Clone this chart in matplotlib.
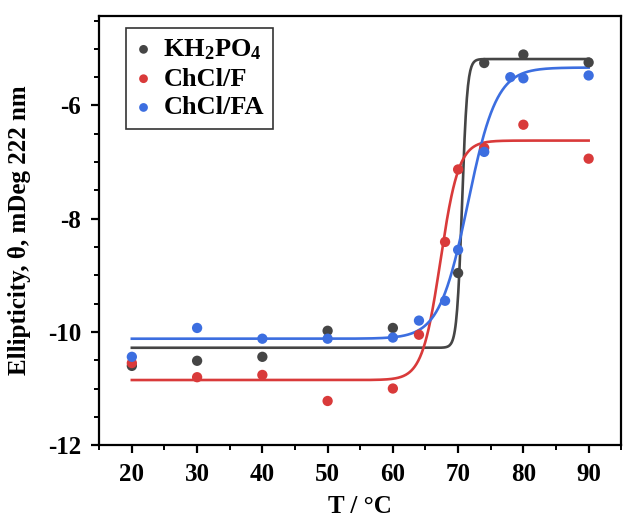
import numpy as np
import matplotlib
matplotlib.use("Agg")
import matplotlib.pyplot as plt
from matplotlib.ticker import MultipleLocator

plt.rcParams['font.family'] = ['Liberation Serif', 'DejaVu Serif']
plt.rcParams['font.weight'] = 'bold'
plt.rcParams['mathtext.default'] = 'regular'
plt.rcParams['axes.unicode_minus'] = False

# Data
labels = [r'KH$_2$PO$_4$', 'ChCl/F', 'ChCl/FA']
colors = ['#454545', '#d93a3a', '#3c6ee0']

T_kh = [20, 30, 40, 50, 60, 70, 74, 80, 90]
y_kh = [-10.60, -10.51, -10.44, -9.98, -9.93, -8.96, -5.25, -5.10, -5.24]

T_f = [20, 30, 40, 50, 60, 64, 68, 70, 74, 80, 90]
y_f = [-10.55, -10.80, -10.76, -11.22, -11.00, -10.05, -8.41, -7.13, -6.75, -6.34, -6.94]

T_fa = [20, 30, 40, 50, 60, 64, 68, 70, 74, 78, 80, 90]
y_fa = [-10.44, -9.93, -10.12, -10.12, -10.10, -9.80, -9.45, -8.55, -6.82, -5.50, -5.52, -5.47]

# Boltzmann fit parameters: A1, A2, x0, dx
fit_kh = [-10.28, -5.18, 70.6, 0.40]
fit_f = [-10.85, -6.62, 67.3, 1.40]
fit_fa = [-10.12, -5.33, 71.5, 2.20]

def boltz(x, p):
    a1, a2, x0, dx = p
    return a2 + (a1 - a2) / (1 + np.exp((x - x0) / dx))

fig = plt.figure(figsize=(6.32, 5.17), dpi=100)
ax = fig.add_axes([0.157, 0.139, 0.826, 0.830])

xs = np.linspace(20, 90, 800)
series = [(T_kh, y_kh, fit_kh), (T_f, y_f, fit_f), (T_fa, y_fa, fit_fa)]
for (t, y, p), lab, c in zip(series, labels, colors):
    ax.plot(xs, boltz(xs, p), color=c, lw=1.9, zorder=2)
    ax.scatter(t, y, s=55, color=c, label=lab, zorder=3, edgecolors='none')

ax.set_xlim(15, 95)
ax.set_ylim(-12, -4.42)
ax.xaxis.set_minor_locator(MultipleLocator(5))
ax.yaxis.set_minor_locator(MultipleLocator(0.5))
ax.set_yticks([-12, -10, -8, -6])
ax.set_xticks([20, 30, 40, 50, 60, 70, 80, 90])

ax.tick_params(which='major', direction='out', length=6, width=1.6, labelsize=18, pad=7)
ax.tick_params(which='minor', direction='out', length=3.5, width=1.4)
ax.tick_params(top=False, right=False, which='both')
for s in ax.spines.values():
    s.set_linewidth(1.6)

ax.set_xlabel('T / °C', fontsize=18, fontweight='bold', labelpad=6)
ax.set_ylabel('Ellipticity, θ, mDeg 222 nm', fontsize=18, fontweight='bold', labelpad=12)

leg = ax.legend(loc='upper left', bbox_to_anchor=(0.052, 0.972), borderaxespad=0,
                frameon=True, fancybox=False, edgecolor='black', handletextpad=0.45,
                labelspacing=0.2, borderpad=0.35, handlelength=0.6, markerscale=0.85,
                prop={'weight': 'bold', 'size': 19})
leg.get_frame().set_linewidth(1.2)

fig.savefig('out.png', dpi=100)
